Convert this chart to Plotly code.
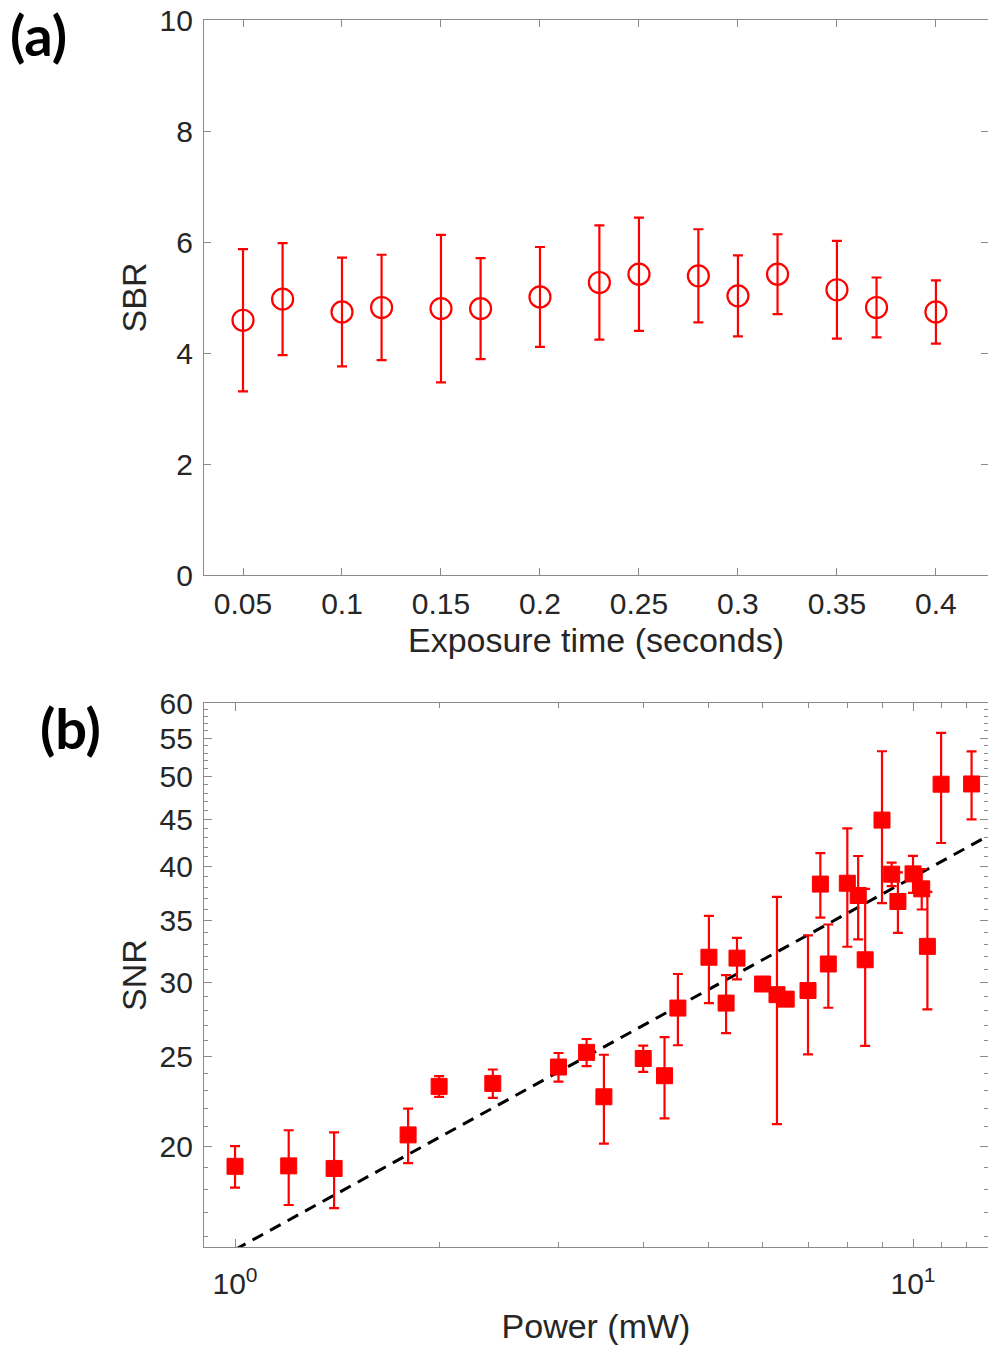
import plotly.graph_objects as go
import math

# ---------- Panel (a) data ----------
exposure = [0.05, 0.07, 0.10, 0.12, 0.15, 0.17, 0.20, 0.23, 0.25, 0.28, 0.30, 0.32, 0.35, 0.37, 0.40]
sbr = [4.59, 4.97, 4.74, 4.82, 4.80, 4.80, 5.01, 5.27, 5.42, 5.39, 5.03, 5.42, 5.14, 4.82, 4.74]
sbr_err = [1.28, 1.01, 0.98, 0.95, 1.33, 0.91, 0.90, 1.03, 1.02, 0.84, 0.73, 0.72, 0.88, 0.54, 0.57]
exposure_ticks = [0.05, 0.1, 0.15, 0.2, 0.25, 0.3, 0.35, 0.4]
exposure_ticklabels = ["0.05", "0.1", "0.15", "0.2", "0.25", "0.3", "0.35", "0.4"]
sbr_ticks = [0, 2, 4, 6, 8, 10]

# ---------- Panel (b) data ----------
power = [1.0, 1.2, 1.4, 1.8, 2.0, 2.4, 3.0, 3.3, 3.5, 4.0, 4.3, 4.5, 5.0, 5.3, 5.5, 6.0,
         6.3, 6.5, 7.0, 7.3, 7.5, 8.0, 8.3, 8.5, 9.0, 9.3, 9.5, 10.0, 10.3, 10.5, 11.0, 12.2]
snr = [19.05, 19.07, 18.95, 20.59, 23.22, 23.39, 24.36, 25.26, 22.63, 24.88, 23.84, 28.19,
       31.97, 28.54, 31.90, 29.92, 29.14, 28.82, 29.44, 38.32, 31.44, 38.40, 37.25, 31.77,
       44.90, 39.27, 36.70, 39.30, 37.87, 32.84, 49.07, 49.10]
snr_err = [0.98, 1.76, 1.77, 1.39, 0.60, 0.82, 0.86, 0.85, 2.48, 0.81, 2.39, 2.48,
           3.44, 2.05, 1.64, 0.30, 7.99, 0.30, 4.30, 3.05, 3.23, 5.59, 3.83, 6.10,
           8.34, 1.14, 2.74, 1.80, 1.89, 4.74, 6.65, 4.12]
fit_power = [1.0, 13.0]
fit_snr = [15.5, 43.3]
snr_ticks = [20, 25, 30, 35, 40, 45, 50, 55, 60]
snr_minor = [16, 17, 18, 19, 21, 22, 23, 24, 26, 27, 28, 29, 31, 32, 33, 34, 36, 37, 38, 39,
             41, 42, 43, 44, 46, 47, 48, 49, 51, 52, 53, 54, 56, 57, 58, 59]
power_ticks = [1, 10]
power_ticklabels = ["10<sup>0</sup>", "10<sup>1</sup>"]
power_minor = [2, 3, 4, 5, 6, 7, 8, 9, 11, 12]

W, H = 988, 1345
RED = "#ff0000"
AX = "#8a8a8a"
TXT = "#262626"
FONT = "Liberation Sans"
TICK = 30
TITLE = 34

fig = go.Figure()

fig.add_trace(go.Scatter(
    x=exposure, y=sbr, mode="markers",
    marker=dict(symbol="circle-open", size=21, color=RED, line=dict(width=2.2, color=RED)),
    error_y=dict(type="data", array=sbr_err, visible=True, color=RED, thickness=2.2, width=5),
    xaxis="x", yaxis="y", showlegend=False,
))

fig.add_trace(go.Scatter(
    x=fit_power, y=fit_snr, mode="lines",
    line=dict(color="black", width=3, dash="12px,8px"),
    xaxis="x2", yaxis="y2", showlegend=False,
))

fig.add_trace(go.Scatter(
    x=power, y=snr, mode="markers",
    marker=dict(symbol="square", size=16, color=RED, line=dict(width=1, color=RED)),
    error_y=dict(type="data", array=snr_err, visible=True, color=RED, thickness=2.2, width=5),
    xaxis="x2", yaxis="y2", showlegend=False,
))

xdom = [204 / W, 1.0]
ydom_a = [1 - 575 / H, 1 - 20 / H]
ydom_b = [1 - 1247 / H, 1 - 703 / H]

common = dict(showline=True, linecolor=AX, linewidth=1.3, mirror="allticks", ticks="inside",
              tickcolor=AX, tickwidth=1.2, showgrid=False, zeroline=False, automargin=False,
              tickfont=dict(family=FONT, size=TICK, color=TXT))
tfont = dict(family=FONT, size=TITLE, color=TXT)

fig.update_layout(
    width=W, height=H,
    margin=dict(l=0, r=0, t=0, b=0),
    paper_bgcolor="white", plot_bgcolor="white",
    xaxis=dict(domain=xdom, anchor="y", range=[0.0303, 0.4263], tickvals=exposure_ticks,
               ticktext=exposure_ticklabels, ticklen=7, ticklabelstandoff=2,
               title=dict(text="Exposure time (seconds)", font=tfont, standoff=9),
               **common),
    yaxis=dict(domain=ydom_a, anchor="x", range=[0, 10], tickvals=sbr_ticks, ticklen=7,
               ticklabelstandoff=4,
               title=dict(text="SBR", font=tfont, standoff=2),
               **common),
    xaxis2=dict(domain=xdom, anchor="y2", type="log",
                range=[math.log10(0.9), math.log10(0.9) + 784 / 678],
                tickvals=power_ticks, ticktext=power_ticklabels, ticklen=8, ticklabelstandoff=10,
                minor=dict(tickvals=power_minor, ticks="inside", ticklen=5, tickcolor=AX, tickwidth=1.2),
                title=dict(text="Power (mW)", font=tfont, standoff=15),
                **common),
    yaxis2=dict(domain=ydom_b, anchor="x2", type="log",
                range=[math.log10(15.6), math.log10(60)],
                tickvals=snr_ticks, ticklen=8, ticklabelstandoff=4,
                minor=dict(tickvals=snr_minor, ticks="inside", ticklen=4, tickcolor=AX, tickwidth=1.2),
                title=dict(text="SNR", font=tfont, standoff=2),
                **common),
    annotations=[
        dict(text="<b>(a)</b>", x=8 / W, y=1 - 35 / H, xref="paper", yref="paper",
             xanchor="left", yanchor="middle", showarrow=False,
             font=dict(family="Lato", size=56, color="black")),
        dict(text="<b>(b)</b>", x=38 / W, y=1 - 727 / H, xref="paper", yref="paper",
             xanchor="left", yanchor="middle", showarrow=False,
             font=dict(family="Lato", size=56, color="black")),
    ],
)

fig.write_html("out.html")
